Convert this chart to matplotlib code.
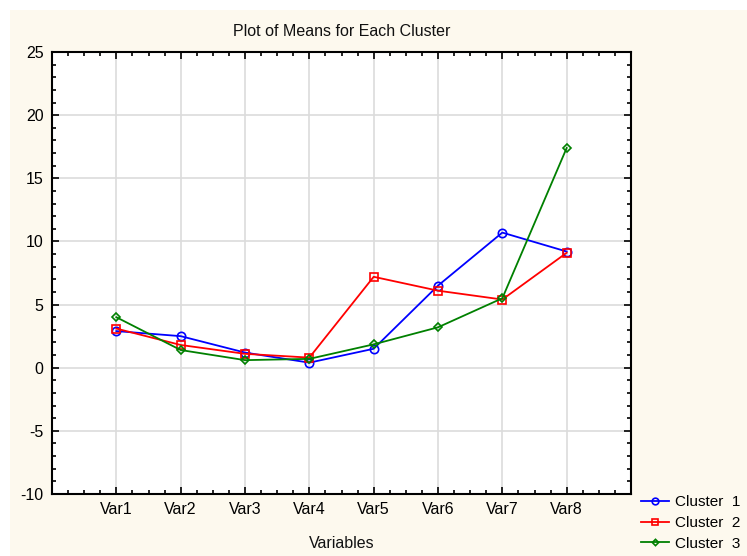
import matplotlib
matplotlib.use("Agg")
import matplotlib.pyplot as plt
from matplotlib.patches import Rectangle
from matplotlib.ticker import MultipleLocator

plt.rcParams['font.family'] = ['Liberation Sans', 'DejaVu Sans']
plt.rcParams['axes.unicode_minus'] = False

variables = ["Var1", "Var2", "Var3", "Var4", "Var5", "Var6", "Var7", "Var8"]
cluster1 = [2.9, 2.5, 1.2, 0.4, 1.5, 6.5, 10.7, 9.2]
cluster2 = [3.1, 1.8, 1.1, 0.8, 7.2, 6.1, 5.4, 9.1]
cluster3 = [4.0, 1.4, 0.6, 0.7, 1.85, 3.2, 5.5, 17.4]
series_names = ["Cluster  1", "Cluster  2", "Cluster  3"]

W, H = 747, 556
fig = plt.figure(figsize=(W / 100, H / 100), dpi=100, facecolor="white")
fig.patches.append(Rectangle((10 / W, 0), 1 - 10 / W, 1 - 10 / H, transform=fig.transFigure,
                             facecolor="#FDF9EE", edgecolor="none", zorder=-10))

ax = fig.add_axes([52 / W, (H - 494) / H, (631 - 52) / W, (494 - 52) / H])
ax.set_facecolor("white")

x = list(range(1, len(variables) + 1))
ax.plot(x, cluster1, color="#0000FF", lw=1.3, marker="o", ms=6, mfc="none", mew=1.2,
        label=series_names[0], zorder=3)
ax.plot(x, cluster2, color="#FF0000", lw=1.3, marker="s", ms=6, mfc="none", mew=1.2,
        label=series_names[1], zorder=3)
ax.plot(x, cluster3, color="#008000", lw=1.3, marker="D", ms=4, mfc="none", mew=1.2,
        label=series_names[2], zorder=3)

ax.set_xlim(0, 9)
ax.set_ylim(-10, 25)
ax.set_xticks(x)
ax.set_xticklabels(variables)
ax.yaxis.set_major_locator(MultipleLocator(5))
ax.yaxis.set_minor_locator(MultipleLocator(1))
ax.xaxis.set_minor_locator(MultipleLocator(0.25))
ax.grid(True, which="major", color="#DCDCDC", lw=1.2, zorder=0)
ax.set_axisbelow(True)

ax.tick_params(which="both", direction="in", top=True, right=True, colors="black",
               labelsize=11.5, width=1.2)
ax.tick_params(which="major", length=5, pad=6)
ax.tick_params(which="minor", length=3)
for s in ax.spines.values():
    s.set_linewidth(1.5)
    s.set_color("black")

fig.text((52 + 631) / 2 / W, 1 - 32 / H, "Plot of Means for Each Cluster",
         ha="center", va="center", fontsize=11.5, color="#111111")
fig.text((52 + 631) / 2 / W, 1 - 544 / H, "Variables", ha="center", va="center",
         fontsize=11.5, color="#111111")

leg = fig.legend(loc="upper left", bbox_to_anchor=(641 / W, 1 - 495 / H), frameon=False,
                 fontsize=11, handlelength=1.8, handletextpad=0.45, labelspacing=0.45,
                 borderaxespad=0, borderpad=0.0, markerscale=0.8)

fig.savefig("out.png", dpi=100, facecolor=fig.get_facecolor())
